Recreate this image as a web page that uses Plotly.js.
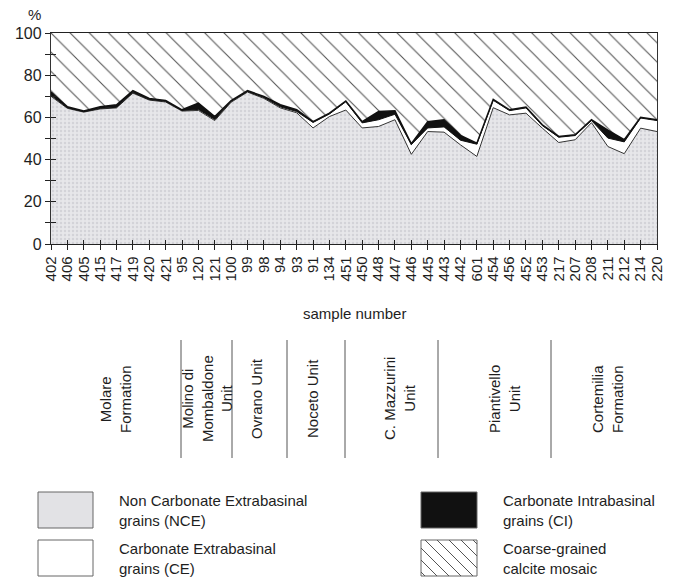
<!DOCTYPE html>
<html><head><meta charset="utf-8">
<script src="https://cdn.plot.ly/plotly-3.0.1.min.js"></script>
<style>html,body{margin:0;padding:0;background:#fff;} #chart{width:677px;height:580px;}</style>
</head><body><div id="chart"></div>
<script>
// ---- data ----
const samples = ['402','406','405','415','417','419','420','421','95','120','121','100','99','98','94','93','91','134','451','450','448','447','446','445','443','442','601','454','456','452','453','217','207','208','211','212','214','220'];
// Non Carbonate Extrabasinal grains (NCE), %
const nce = [70.0,64.3,62.5,64.0,64.5,71.5,68.2,67.3,63.0,63.3,58.5,67.2,72.0,69.0,64.5,62.2,55.0,60.4,63.5,55.0,55.7,58.9,42.5,53.3,53.0,47.0,41.5,64.6,61.2,62.0,54.9,48.1,49.4,57.5,46.2,42.8,54.9,53.3];
// Carbonate Extrabasinal grains (CE), %
const ce = [0.5,0.3,0.2,0.3,0.3,0.3,0.3,0.3,0.3,0.5,0.5,0.4,0.3,0.4,0.5,0.6,2.6,1.2,3.9,2.4,3.2,2.6,4.6,1.7,2.5,2.2,5.8,3.5,2.0,2.5,1.2,2.5,2.0,1.0,4.0,5.6,4.8,5.2];
// Carbonate Intrabasinal grains (CI), %
const ci = [1.5,0.4,0.3,0.7,1.2,0.9,0.5,0.4,0.3,3.0,1.4,0.4,0.4,0.5,1.0,0.8,0.4,0.4,0.4,0.6,3.9,1.6,0.4,3.0,3.4,2.3,0.5,0.4,0.4,0.4,0.4,0.4,0.4,0.4,3.8,1.0,0.4,0.4];
// Coarse-grained calcite mosaic, %
const mosaic = [28.0,35.0,37.0,35.0,34.0,27.3,31.0,32.0,36.4,33.2,39.6,32.0,27.3,30.1,34.0,36.4,42.0,38.0,32.2,42.0,37.2,36.9,52.5,42.0,41.1,48.5,52.2,31.5,36.4,35.1,43.5,49.0,48.2,41.1,46.0,50.6,39.9,41.1];
const yTicks = [0,20,40,60,80,100];
const unitNames = ['Molare<br>Formation','Molino di<br>Mombaldone<br>Unit','Ovrano Unit','Noceto Unit','C. Mazzurini<br>Unit','Piantivello<br>Unit','Cortemilia<br>Formation'];
const legendNames = ['Non Carbonate Extrabasinal<br>grains (NCE)','Carbonate Extrabasinal<br>grains (CE)','Carbonate Intrabasinal<br>grains (CI)','Coarse-grained<br>calcite mosaic'];

// ---- layout helpers (pixel -> paper) ----
const L=51, R=657, T=33, B=244;
const px = x => (x-L)/(R-L);
const py = y => (B-y)/(B-T);
const idx = samples.map((s,i)=>i);
const FONT = 'Liberation Sans, Arial, sans-serif';
const TXT = '#1e1e1e';

const traces = [
  {x: idx, y: nce, type:'scatter', mode:'lines', stackgroup:'s', name:'NCE',
   line:{color:'#333', width:1},
   fillcolor:'#e5e5e8',
   fillpattern:{shape:'.', bgcolor:'#e7e7ea', fgcolor:'#d3d3d8', size:4, solidity:0.3},
   hoverinfo:'skip', showlegend:false},
  {x: idx, y: ce, type:'scatter', mode:'lines', stackgroup:'s', name:'CE',
   line:{color:'#111', width:1}, fillcolor:'#ffffff', hoverinfo:'skip', showlegend:false},
  {x: idx, y: ci, type:'scatter', mode:'lines', stackgroup:'s', name:'CI',
   line:{color:'#111', width:1.5}, fillcolor:'#111111', hoverinfo:'skip', showlegend:false},
  {x: idx, y: mosaic, type:'scatter', mode:'lines', stackgroup:'s', name:'mosaic',
   line:{color:'rgba(0,0,0,0)', width:0}, fillcolor:'#ffffff',
   fillpattern:{shape:'\\', bgcolor:'#ffffff', fgcolor:'#555', size:13.6, solidity:0.08},
   hoverinfo:'skip', showlegend:false},
  {x:[0], y:[0], xaxis:'x2', yaxis:'y2', mode:'markers', marker:{opacity:0}, hoverinfo:'skip', showlegend:false}
];

const shapes = [];
const annotations = [];

// divider lines between units
[181, 232, 287, 345, 438, 551].forEach(x => {
  shapes.push({type:'line', xref:'paper', yref:'paper', x0:px(x), x1:px(x), y0:py(340), y1:py(458),
    line:{color:'#555', width:1}});
});
// unit labels
const unitX = [115, 207, 256, 312, 399, 504, 607];
unitNames.forEach((t,i) => {
  annotations.push({text:t, xref:'paper', yref:'paper', x:px(unitX[i]), y:py(399), showarrow:false,
    textangle:-90, xanchor:'center', yanchor:'middle', align:'center',
    font:{family:FONT, size:15, color:TXT}});
});

// custom legend
const boxes = [
  {x0:38, x1:93, y0:492, y1:528, fill:'#e2e2e5', tx:117},
  {x0:38, x1:93, y0:540, y1:576, fill:'#ffffff', tx:117},
  {x0:421, x1:477, y0:492, y1:528, fill:'#111111', tx:501},
  {x0:421, x1:477, y0:540, y1:576, fill:'#ffffff', tx:501}
];
boxes.forEach((b,i) => {
  shapes.push({type:'rect', xref:'paper', yref:'paper', x0:px(b.x0), x1:px(b.x1), y0:py(b.y0), y1:py(b.y1),
    fillcolor:b.fill, line:{color:'#666', width:1}});
  annotations.push({text:legendNames[i], xref:'paper', yref:'paper', x:px(b.tx), y:py((b.y0+b.y1)/2),
    showarrow:false, xanchor:'left', yanchor:'middle', align:'left',
    font:{family:FONT, size:15, color:TXT}});
});
// hatch lines inside the mosaic legend box
(function(){
  const b = boxes[3], s = 12;
  let path = '';
  for (let c = b.x0 - b.y1 + 4; c < b.x1 - b.y0; c += s) {
    const ya = Math.max(b.y0, b.x0 - c), yb = Math.min(b.y1, b.x1 - c);
    if (yb - ya < 1) continue;
    path += 'M' + px(ya + c) + ',' + py(ya) + 'L' + px(yb + c) + ',' + py(yb);
  }
  shapes.push({type:'path', xref:'paper', yref:'paper', path:path, line:{color:'#555', width:1}});
})();

annotations.push({text:'%', xref:'paper', yref:'paper', x:px(34), y:py(14), showarrow:false,
  xanchor:'center', yanchor:'middle', font:{family:FONT, size:15, color:TXT}});
annotations.push({text:'sample number', xref:'paper', yref:'paper', x:px(354), y:py(313), showarrow:false,
  xanchor:'center', yanchor:'middle', font:{family:FONT, size:15, color:TXT}});

const layout = {
  width:677, height:580,
  margin:{l:L, r:677-R, t:T, b:580-B, pad:0},
  paper_bgcolor:'#fff', plot_bgcolor:'#fff',
  showlegend:false,
  font:{family:FONT, color:TXT},
  xaxis:{range:[0,37], tickvals:idx, ticktext:samples, tickangle:-90,
    ticks:'outside', ticklen:5, tickcolor:'#222', tickwidth:1,
    showline:true, linecolor:'#222', linewidth:1.4, mirror:true,
    showgrid:false, zeroline:false, fixedrange:true,
    tickfont:{family:FONT, size:15, color:TXT}},
  yaxis:{range:[0,100], tickvals:yTicks, ticks:'outside', ticklen:5, tickcolor:'#222',
    minor:{dtick:10, ticks:'outside', ticklen:5, tickcolor:'#222', showgrid:false},
    showline:true, linecolor:'#333', linewidth:1.2, mirror:true,
    showgrid:false, zeroline:false, fixedrange:true,
    tickfont:{family:FONT, size:16, color:TXT}},
  xaxis2:{overlaying:'x', anchor:'y', side:'bottom', range:[0,37], tickvals:idx,
    ticks:'inside', ticklen:4, tickcolor:'#222', showticklabels:false,
    showline:false, showgrid:false, zeroline:false},
  yaxis2:{overlaying:'y', anchor:'x', side:'left', range:[0,100], dtick:10,
    ticks:'inside', ticklen:5, tickcolor:'#222', showticklabels:false,
    showline:false, showgrid:false, zeroline:false},
  shapes:shapes,
  annotations:annotations
};

Plotly.newPlot('chart', traces, layout, {displayModeBar:false, staticPlot:true});
</script>
</body></html>
